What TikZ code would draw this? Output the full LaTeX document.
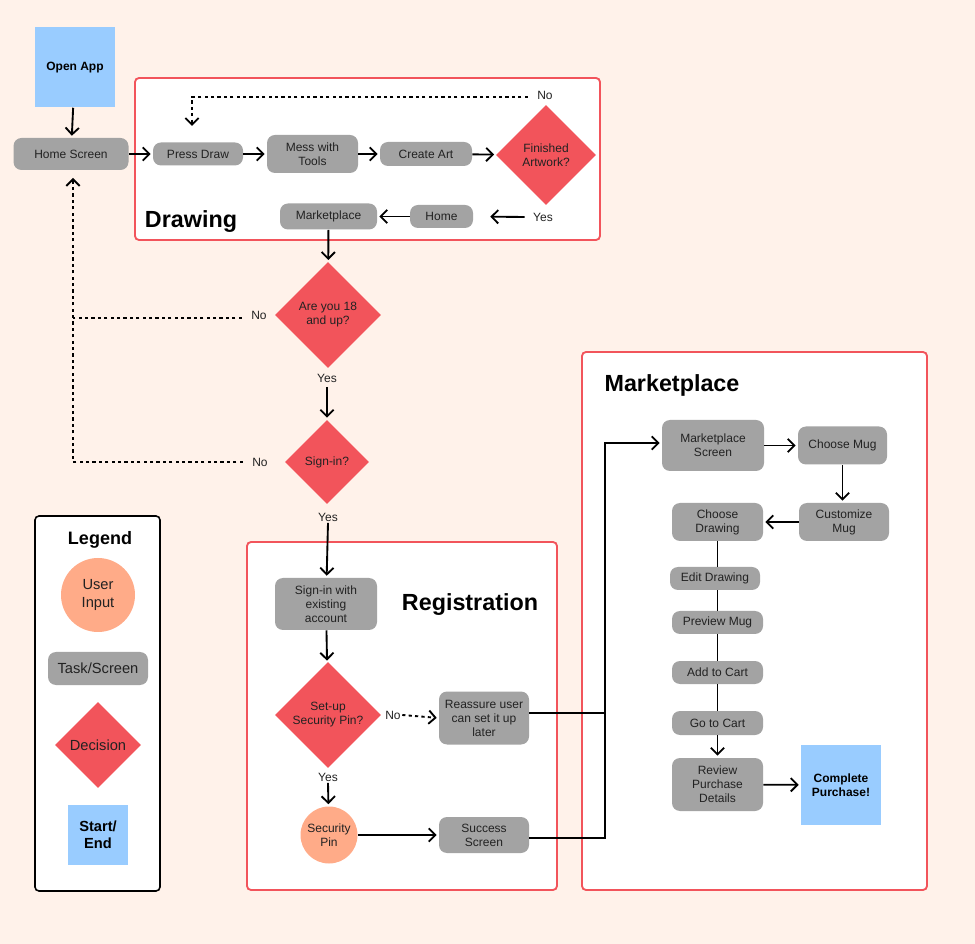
\documentclass[tikz,border=0pt]{standalone}
\usepackage{fontspec}
\setmainfont{Liberation Sans}
\usetikzlibrary{shapes.geometric,arrows.meta,calc}
\definecolor{bgc}{HTML}{FFF2EA}
\definecolor{redc}{HTML}{F2545B}
\definecolor{grayc}{HTML}{A3A3A3}
\definecolor{bluec}{HTML}{99CCFF}
\definecolor{orangec}{HTML}{FFAB88}
\definecolor{txt}{HTML}{222222}
\begin{document}
\begin{tikzpicture}[x=0.75pt,y=-0.75pt,
  font=\fontsize{9}{10.5}\selectfont,
  task/.style n args={2}{fill=grayc, rounded corners=6pt, minimum width=#1*0.75pt, minimum height=#2*0.75pt, align=center, inner sep=1pt, text=txt},
  decision/.style={diamond, fill=redc, minimum width=#1*0.75pt, minimum height=#1*0.75pt, inner sep=0pt, align=center, text=txt},
  startend/.style={fill=bluec, minimum width=#1*0.75pt, minimum height=#1*0.75pt, inner sep=0pt, align=center, font=\fontsize{9}{10.5}\selectfont\bfseries},
  userin/.style={circle, fill=orangec, minimum size=#1*0.75pt, inner sep=0pt, align=center, text=txt},
  frame/.style={draw=redc, line width=1.4pt, fill=white, rounded corners=3pt},
  legframe/.style={draw=black, line width=1.2pt, fill=white, rounded corners=3pt},
  title/.style={font=\fontsize{17.5}{20}\selectfont\bfseries, inner sep=0pt},
  arr/.style={-{Straight Barb[length=5pt,width=10pt,line width=1.4pt]}, line width=1.4pt, shorten >=1.5pt},
  ln/.style={line width=1.4pt},
  dsh/.style={dash pattern=on 2.4pt off 2.4pt, line width=1.3pt},
  lbl/.style={text=txt, inner sep=1pt},
  legtxt/.style={font=\fontsize{11}{13}\selectfont}
]
\fill[bgc] (0,0) rectangle (975,944);
\useasboundingbox (0,0) rectangle (975,944);

% frames
\draw[frame] (135,78) rectangle (600,240);
\draw[frame] (247,542) rectangle (557,890);
\draw[frame] (582,352) rectangle (927,890);
\draw[legframe] (35,516) rectangle (160,891);

% titles
\node[title] (tdraw) at (191,222) {Drawing};
\node[title] (treg) at (470,605) {Registration};
\node[title] (tmkt) at (672,385) {Marketplace};

% main flow
\node[startend=80] (open) at (75,67.5) {Open App};
\node[task={115}{32}] (home) at (71,154) {Home Screen};
\node[task={90}{23}] (press) at (198,154) {Press Draw};
\node[task={91}{38}] (mess) at (312.5,154) {Mess with\\Tools};
\node[task={92}{24}] (create) at (426,154) {Create Art};
\node[decision=100] (fin) at (546,155) {Finished\\Artwork?};
\node[task={63}{23}] (hm) at (441.5,216.5) {Home};
\node[task={97}{26}] (mkt) at (328.5,216.5) {Marketplace};
\node[decision=106] (age) at (328,315) {Are you 18\\and up?};
\node[decision=84] (sign) at (327,462) {Sign-in?};

% registration
\node[task={102}{52}] (exist) at (326,604) {Sign-in with\\existing\\account};
\node[decision=106] (pin) at (328,715) {Set-up\\Security Pin?};
\node[task={90}{53}] (reas) at (484,718) {Reassure user\\can set it up\\later};
\node[userin=57] (spin) at (329,835) {Security\\Pin};
\node[task={90}{36}] (succ) at (484,835) {Success\\Screen};

% marketplace
\node[task={102}{51}] (mscr) at (713,445.5) {Marketplace\\Screen};
\node[task={89}{38}] (cmug) at (842.5,445.5) {Choose Mug};
\node[task={90}{38}] (cust) at (844,522) {Customize\\Mug};
\node[task={91}{38}] (cdraw) at (717.5,522) {Choose\\Drawing};
\node[task={90}{23}] (edit) at (715,578.5) {Edit Drawing};
\node[task={91}{23}] (prev) at (717.5,622.5) {Preview Mug};
\node[task={91}{23}] (cart) at (717.5,672.5) {Add to Cart};
\node[task={91}{24}] (goc) at (717.5,723) {Go to Cart};
\node[task={91}{53}] (rev) at (717.5,784.5) {Review\\Purchase\\Details};
\node[startend=80] (comp) at (841,785) {Complete\\Purchase!};

% legend
\node[font=\fontsize{13.5}{15}\selectfont\bfseries] (legt) at (100,540) {Legend};
\node[userin=74, legtxt] (lui) at (98,595) {User\\Input};
\node[task={100}{33}, legtxt] (lts) at (98,668.5) {Task/Screen};
\node[decision=86, legtxt] (ld) at (98,745) {Decision};
\node[startend=60, font=\fontsize{11}{13}\selectfont\bfseries] (lse) at (98,835) {Start/\\End};

% labels
\node[lbl] (no1) at (545,95) {No};
\node[lbl] (yes1) at (543,217) {Yes};
\node[lbl] (no2) at (259,315) {No};
\node[lbl] (yes2) at (327,378) {Yes};
\node[lbl] (no3) at (260,462) {No};
\node[lbl] (yes3) at (328,517) {Yes};
\node[lbl] (no4) at (393,715) {No};
\node[lbl] (yes4) at (328,777) {Yes};

\coordinate (pd) at (192,128);
\coordinate (hs) at (73,176);
\coordinate (jn) at (605,443);
\coordinate (n1) at ($(no1.west)+(-8,2)$);
\coordinate (n2) at ($(no2.west)+(-8,3)$);
\coordinate (n3) at ($(no3.west)+(-8,0)$);

% connectors
\draw[arr] (open) -- (home);
\draw[arr] (home) -- (press);
\draw[arr] (press) -- (mess);
\draw[arr] (mess) -- (create);
\draw[arr] (create) -- (fin);
\draw[dsh,arr] (n1) -| (pd);
\draw[arr, shorten >=17*0.75pt] ($(yes1.west)+(-7,0)$) -- (hm.east);
\draw[arr] (hm) -- (mkt);
\draw[arr] (mkt) -- (age);
\draw[dsh] (n2) -- (n2 -| hs);
\draw[dsh,arr] (n3) -| (hs);
\draw[arr] ($(yes2.south)+(0,3)$) -- (sign);
\draw[arr] (yes3.south) -- (exist);
\draw[arr] (exist) -- (pin);
\draw[dsh,arr] (no4.east) -- (reas.west);
\draw[arr] (yes4.south) -- (spin);
\draw[arr] (spin) -- (succ.west |- spin);
\draw[ln] (reas.east |- 0,713) -- (jn |- 0,713);
\draw[arr] (succ.east |- 0,838) -| (jn) -- (mscr.west |- jn);
\draw[arr] (mscr) -- (cmug);
\draw[arr] (cmug.south) -- (cmug.south |- cust.north);
\draw[arr] (cust) -- (cdraw);
\draw[ln] (cdraw.south) -- (cdraw.south |- edit.north);
\draw[ln] (edit.south -| cdraw.south) -- (cdraw.south |- prev.north);
\draw[ln] (prev.south) -- (cart.north);
\draw[ln] (cart.south) -- (goc.north);
\draw[arr] (goc) -- (rev);
\draw[arr] (rev) -- (comp);
\end{tikzpicture}
\end{document}
